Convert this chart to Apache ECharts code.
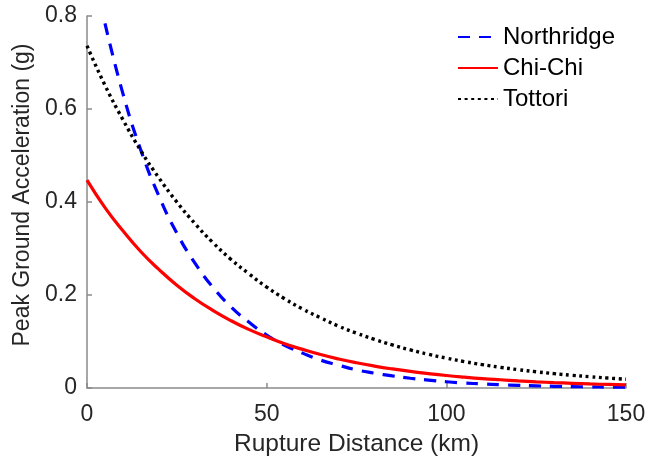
<!DOCTYPE html>
<html>
<head>
<meta charset="utf-8">
<script src="https://cdn.jsdelivr.net/npm/echarts@6/dist/echarts.min.js"></script>
<style>
html,body{margin:0;padding:0;background:#fff;}
#chart{width:648px;height:458px;}
</style>
</head>
<body>
<div id="chart"></div>
<script>
// Rupture distance samples (km)
var distances = [0,5,10,15,20,25,30,35,40,45,50,55,60,65,70,75,80,85,90,95,100,105,110,115,120,125,130,135,140,145,150];
// Peak ground acceleration (g)
var northridge = [null,0.784,0.633,0.511,0.413,0.333,0.269,0.217,0.175,0.142,0.114,0.092,0.075,0.060,0.049,0.039,0.032,0.026,0.021,0.017,0.0134,0.0108,0.0088,0.0071,0.0057,0.0046,0.0037,0.0030,0.0024,0.0020,0.0016];
var chichi = [0.447,0.388,0.338,0.293,0.255,0.221,0.192,0.167,0.145,0.126,0.110,0.095,0.083,0.072,0.0625,0.0543,0.0472,0.0410,0.0356,0.0310,0.0269,0.0234,0.0203,0.0177,0.0153,0.0133,0.0116,0.0101,0.0087,0.0076,0.0066];
var tottori = [0.736,0.651,0.577,0.510,0.452,0.400,0.354,0.313,0.277,0.246,0.217,0.192,0.170,0.151,0.133,0.118,0.1045,0.0925,0.0819,0.0725,0.0642,0.0568,0.0503,0.0445,0.0394,0.0349,0.0309,0.0273,0.0242,0.0214,0.0189];
var seriesNames = ['Northridge','Chi-Chi','Tottori'];
var xTicks = [0,50,100,150];
var yTicks = [0,0.2,0.4,0.6,0.8];

function pairs(vals){
  var out = [];
  for (var i = 0; i < distances.length; i++) {
    if (vals[i] !== null) out.push([distances[i], vals[i]]);
  }
  return out;
}

var textColor = '#262626';
var axisColor = '#8a8a8a';
var font = 'Liberation Sans, Arial, Helvetica, sans-serif';

var chart = echarts.init(document.getElementById('chart'), null, {renderer:'canvas'});
chart.setOption({
  animation: false,
  backgroundColor: '#ffffff',
  grid: {left: 87, right: 22, top: 16, bottom: 70, containLabel: false, outerBoundsMode: 'none'},
  legend: {
    left: 452, top: 20, orient: 'vertical',
    itemWidth: 40, itemHeight: 14, itemGap: 7,
    itemStyle: {opacity: 0},
    textStyle: {fontFamily: font, fontSize: 24, color: '#000'},
    data: seriesNames
  },
  xAxis: {
    type: 'value', min: xTicks[0], max: xTicks[xTicks.length-1], interval: xTicks[1]-xTicks[0],
    name: 'Rupture Distance (km)', nameLocation: 'middle', nameGap: 44,
    nameTextStyle: {fontFamily: font, fontSize: 24.5, color: textColor},
    axisLine: {lineStyle: {color: axisColor, width: 1.5}},
    axisTick: {inside: true, length: 5, lineStyle: {color: axisColor, width: 1.5}},
    axisLabel: {fontFamily: font, fontSize: 23, color: textColor, margin: 15},
    splitLine: {show: false}
  },
  yAxis: {
    type: 'value', min: yTicks[0], max: yTicks[yTicks.length-1], interval: yTicks[1]-yTicks[0],
    name: 'Peak Ground Acceleration (g)', nameLocation: 'middle', nameGap: 52,
    nameTextStyle: {fontFamily: font, fontSize: 23, color: textColor, padding: [0, 0, 0, 14]},
    axisLine: {show: true, lineStyle: {color: axisColor, width: 1.5}},
    axisTick: {show: true, inside: true, length: 5, lineStyle: {color: axisColor, width: 1.5}},
    axisLabel: {fontFamily: font, fontSize: 23, color: textColor, margin: 10},
    splitLine: {show: false}
  },
  series: [
    {name: seriesNames[0], type: 'line', data: pairs(northridge), symbol: 'none', smooth: true,
     lineStyle: {color: '#0000ff', width: 3.2, type: [12, 9]}, itemStyle: {color: '#0000ff'}},
    {name: seriesNames[1], type: 'line', data: pairs(chichi), symbol: 'none', smooth: true,
     lineStyle: {color: '#ff0000', width: 3.2, type: 'solid'}, itemStyle: {color: '#ff0000'}},
    {name: seriesNames[2], type: 'line', data: pairs(tottori), symbol: 'none', smooth: true,
     lineStyle: {color: '#000000', width: 3.4, type: [3, 3.6]}, itemStyle: {color: '#000000'}}
  ]
});
</script>
</body>
</html>
